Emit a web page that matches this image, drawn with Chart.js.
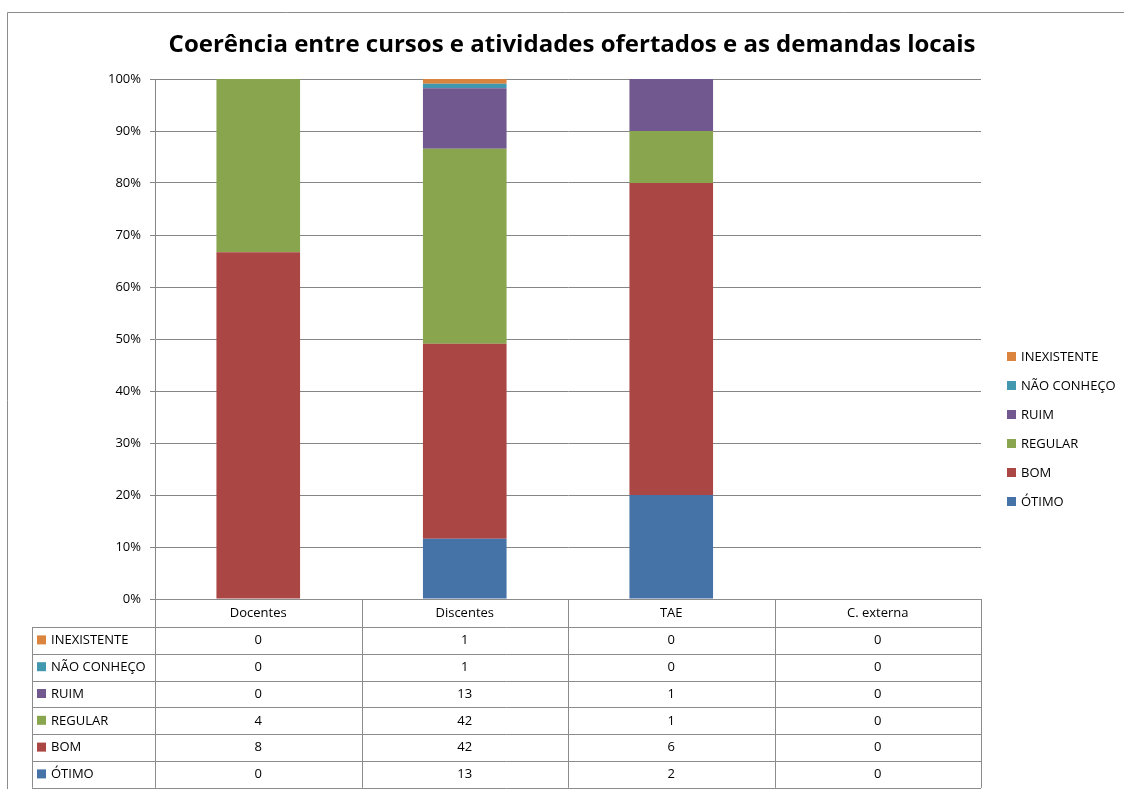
<!DOCTYPE html>
<html>
<head>
<meta charset="utf-8">
<script src="https://cdn.jsdelivr.net/npm/chart.js@4.4.1/dist/chart.umd.min.js"></script>
<style>
  html, body { margin: 0; padding: 0; background: #fff; }
  #wrap { width: 1124px; height: 789px; }
</style>
</head>
<body>
<div id="wrap"><canvas id="chart" width="1124" height="789"></canvas></div>
<script>
// dados do gráfico
const titulo = 'Coerência entre cursos e atividades ofertados e as demandas locais';
const categorias = ['Docentes', 'Discentes', 'TAE', 'C. externa'];
const otimo = [0, 13, 2, 0];
const bom = [8, 42, 6, 0];
const regular = [4, 42, 1, 0];
const ruim = [0, 13, 1, 0];
const naoConheco = [0, 1, 0, 0];
const inexistente = [0, 1, 0, 0];
const yTicks = [0, 10, 20, 30, 40, 50, 60, 70, 80, 90, 100];

const FONT = '"Open Sans", "Liberation Sans", sans-serif';

// séries na ordem de empilhamento (de baixo para cima)
const series = [
  { label: 'ÓTIMO', data: otimo, color: '#4572A7' },
  { label: 'BOM', data: bom, color: '#AA4643' },
  { label: 'REGULAR', data: regular, color: '#89A54E' },
  { label: 'RUIM', data: ruim, color: '#71588F' },
  { label: 'NÃO CONHEÇO', data: naoConheco, color: '#4198AF' },
  { label: 'INEXISTENTE', data: inexistente, color: '#DB843D' }
];

// totais por categoria para o gráfico 100%
const totais = categorias.map((c, i) => series.reduce((s, d) => s + d.data[i], 0));

// legenda, título, moldura e tabela de dados
const extras = {
  id: 'extras',
  afterDraw(chart) {
    const ctx = chart.ctx;
    const x = chart.scales.x;
    const area = chart.chartArea;
    ctx.save();

    // moldura externa
    ctx.strokeStyle = '#8c8c8c';
    ctx.lineWidth = 1;
    ctx.beginPath();
    ctx.moveTo(7.5, 789);
    ctx.lineTo(7.5, 12.5);
    ctx.lineTo(1124, 12.5);
    ctx.stroke();

    // título
    ctx.fillStyle = '#000';
    ctx.font = 'bold 24px ' + FONT;
    ctx.textAlign = 'center';
    ctx.textBaseline = 'middle';
    ctx.fillText(titulo, 572, 45);

    // legenda à direita (ordem invertida)
    ctx.font = '13px ' + FONT;
    ctx.textAlign = 'left';
    const inv = series.slice().reverse();
    inv.forEach((s, i) => {
      const y = 357 + i * 29;
      ctx.fillStyle = s.color;
      ctx.fillRect(1007, y - 5, 9, 9);
      ctx.fillStyle = '#000';
      ctx.fillText(s.label, 1021, y);
    });

    // tabela de dados
    const half = (x.getPixelForValue(1) - x.getPixelForValue(0)) / 2;
    const top = area.bottom;
    const headH = 28;
    const rowH = 26.8;
    const left = 32;
    const bottom = top + headH + rowH * inv.length;
    ctx.strokeStyle = '#8c8c8c';
    ctx.beginPath();
    // linhas horizontais
    ctx.moveTo(area.left, Math.round(top) + 0.5);
    ctx.lineTo(area.right, Math.round(top) + 0.5);
    for (let r = 0; r <= inv.length; r++) {
      const y = Math.round(top + headH + r * rowH) + 0.5;
      ctx.moveTo(left, y);
      ctx.lineTo(area.right, y);
    }
    // linhas verticais
    ctx.moveTo(left + 0.5, Math.round(top + headH));
    ctx.lineTo(left + 0.5, bottom);
    categorias.forEach((c, i) => {
      const xl = Math.round(x.getPixelForValue(i) - half) + 0.5;
      ctx.moveTo(xl, top);
      ctx.lineTo(xl, bottom);
    });
    ctx.moveTo(Math.round(area.right) + 0.5, top);
    ctx.lineTo(Math.round(area.right) + 0.5, bottom);
    ctx.stroke();

    ctx.fillStyle = '#000';
    ctx.font = '13px ' + FONT;
    ctx.textAlign = 'center';
    categorias.forEach((c, i) => {
      ctx.fillText(c, x.getPixelForValue(i), top + headH / 2);
    });
    inv.forEach((s, r) => {
      const yc = top + headH + r * rowH + rowH / 2;
      ctx.fillStyle = s.color;
      ctx.fillRect(37, yc - 5, 9, 9);
      ctx.fillStyle = '#000';
      ctx.textAlign = 'left';
      ctx.fillText(s.label, 51, yc);
      ctx.textAlign = 'center';
      s.data.forEach((v, i) => ctx.fillText(String(v), x.getPixelForValue(i), yc));
    });
    ctx.restore();
  }
};

new Chart(document.getElementById('chart'), {
  type: 'bar',
  data: {
    labels: categorias,
    datasets: series.map(s => ({
      label: s.label,
      data: s.data.map((v, i) => totais[i] ? v / totais[i] * 100 : 0),
      backgroundColor: s.color,
      borderWidth: 0,
      barPercentage: 0.405,
      categoryPercentage: 1
    }))
  },
  options: {
    responsive: false,
    animation: false,
    layout: { padding: { top: 79, right: 143, bottom: 190, left: 0 } },
    plugins: {
      legend: { display: false },
      title: { display: false },
      tooltip: { enabled: false }
    },
    scales: {
      x: {
        stacked: true,
        ticks: { display: false },
        grid: { display: false },
        border: { display: false },
        afterFit: s => { s.height = 0; }
      },
      y: {
        stacked: true,
        min: 0,
        max: 100,
        afterBuildTicks: s => { s.ticks = yTicks.map(v => ({ value: v })); },
        afterFit: s => { s.width = 155; },
        ticks: {
          callback: v => v + '%',
          color: '#000',
          padding: 9,
          font: { family: FONT, size: 13 }
        },
        grid: { color: '#868686', tickLength: 5 },
        border: { display: true, color: '#868686' }
      }
    }
  },
  plugins: [extras]
});
</script>
</body>
</html>
